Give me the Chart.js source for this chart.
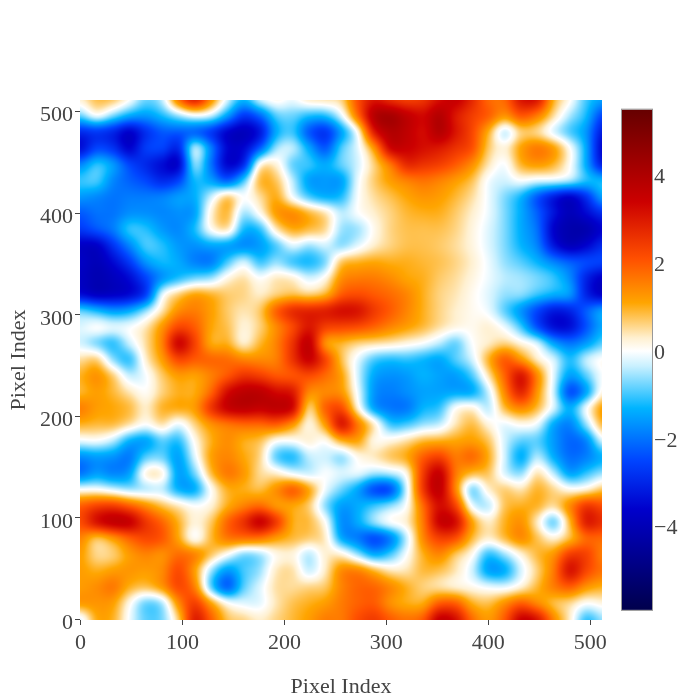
<!DOCTYPE html>
<html>
<head>
<meta charset="utf-8">
<title>Heatmap</title>
<script src="https://cdn.jsdelivr.net/npm/chart.js@4"></script>
<style>
    html, body { margin: 0; padding: 0; background: #ffffff; }
    canvas { display: block; }
</style>
</head>
<body>
<canvas id="heatmapChart" width="700" height="700"></canvas>
<script>
const gridX = [0, 16, 32, 48, 64, 80, 96, 112, 128, 144, 160, 176, 192, 208, 224, 240, 256, 272, 288, 304, 320, 336, 352, 368, 384, 400, 416, 432, 448, 464, 480, 496, 512];
const gridY = [512, 496, 480, 464, 448, 432, 416, 400, 384, 368, 352, 336, 320, 304, 288, 272, 256, 240, 224, 208, 192, 176, 160, 144, 128, 112, 96, 80, 64, 48, 32, 16, 0];

// values, one row per gridY entry, top row first
const zRows = [
    [0.3, 0.9, 0.8, 0.1, -0.8, -0.4, 1.8, 3.2, 1.5, -0.2, -1.3, -0.2, 0.2, -0.1, 0.4, 0.5, 0.6, 2.2, 3.1, 2.6, 2.3, 2.5, 3.2, 3.6, 2.8, 1.8, 1.8, 3.2, 3.2, 1.0, 0.1, -1.0, -1.5],
    [-0.8, 0.05, -0.7, -1.4, -1.6, -1.2, -0.6, -0.1, -0.3, -1.5, -2.8, -2.2, -0.9, -0.8, -1.2, -1.2, -0.2, 1.8, 4.0, 4.3, 3.7, 3.3, 4.0, 3.0, 2.4, 2.0, 1.3, 2.1, 1.6, 0.5, -0.5, -1.2, -2.6],
    [-3.0, -2.8, -3.1, -3.8, -2.9, -2.3, -2.3, -2.3, -2.8, -3.7, -4.0, -3.4, -1.4, -1.0, -2.4, -2.9, -1.6, 0.0, 3.1, 4.0, 3.7, 3.2, 4.0, 3.1, 2.3, 1.0, -0.5, 0.6, 0.5, -0.3, -1.0, -1.6, -3.3],
    [-3.5, -2.5, -2.8, -3.7, -2.6, -2.5, -3.1, -0.2, -1.8, -3.6, -3.6, -2.3, -0.5, -0.3, -1.4, -2.4, -0.9, -0.2, 1.2, 3.5, 3.5, 3.2, 3.0, 2.6, 2.2, 0.7, 0.2, 1.2, 1.7, 1.3, 0.1, -1.4, -3.7],
    [-1.8, -1.0, -1.5, -2.5, -3.0, -3.5, -3.8, -0.5, -2.0, -3.7, -3.1, 0.3, 0.3, -0.9, -1.0, -1.4, -0.8, -0.3, 0.6, 1.6, 2.8, 2.6, 2.4, 2.0, 1.4, 0.4, -0.1, 1.0, 1.3, 1.0, 0.1, -1.4, -3.3],
    [-1.0, -0.9, -1.8, -2.2, -2.5, -3.0, -2.6, -1.2, -1.5, -2.3, -1.0, 1.0, 0.8, -0.4, -1.6, -1.6, -1.6, -0.1, 0.7, 1.2, 1.5, 1.7, 1.5, 1.2, 0.8, -0.1, -0.3, 0.0, -0.2, -0.2, -0.4, -1.1, -1.2],
    [-1.6, -1.8, -2.0, -1.9, -1.9, -1.8, -1.5, -1.4, -0.3, 0.8, 0.0, 0.5, 1.1, -0.1, -1.0, -1.4, -1.2, 0.0, 0.5, 0.8, 1.1, 1.3, 1.2, 0.9, 0.5, -0.1, -0.7, -1.3, -2.4, -3.3, -3.8, -2.9, -1.4],
    [-2.3, -2.0, -2.0, -1.7, -1.7, -1.8, -1.7, -1.6, 0.3, 1.0, -0.6, 0.1, 1.3, 1.5, 1.0, 0.5, -0.4, 0.0, 0.3, 0.6, 0.9, 1.0, 1.0, 0.7, 0.3, -0.1, -0.7, -1.4, -2.2, -3.3, -4.0, -3.5, -2.9],
    [-2.7, -2.3, -1.9, -1.0, -1.1, -1.6, -1.8, -1.2, 0.1, 0.5, -1.3, -1.2, 0.4, 1.1, 0.9, 0.6, -0.6, -0.6, 0.1, 0.6, 0.8, 0.8, 0.8, 0.6, 0.2, -0.2, -0.7, -1.4, -2.0, -3.7, -4.2, -4.2, -3.6],
    [-3.8, -3.8, -2.8, -1.8, -0.9, -1.1, -1.6, -1.7, -1.5, -1.6, -1.8, -1.6, -1.0, -0.2, -0.6, -0.3, -0.7, -0.2, 0.3, 0.6, 0.8, 0.8, 0.7, 0.5, 0.2, -0.2, -0.7, -1.3, -1.8, -3.3, -4.0, -3.6, -2.9],
    [-3.7, -4.0, -3.5, -2.7, -1.6, -1.2, -1.4, -1.9, -2.0, -1.0, -0.2, -1.1, -0.6, -1.1, -1.3, -0.8, 0.8, 1.0, 1.1, 1.0, 1.0, 0.9, 0.8, 0.6, 0.3, -0.1, -0.6, -0.9, -1.3, -1.8, -2.2, -2.4, -2.5],
    [-3.8, -4.1, -3.9, -3.5, -2.6, -1.7, -1.2, -0.8, -0.6, 0.2, 0.5, 0.0, 0.4, 0.3, -0.3, 0.1, 1.4, 1.6, 1.6, 1.4, 1.1, 1.0, 0.7, 0.5, 0.2, -0.1, -0.4, -0.5, -0.7, -1.0, -1.7, -3.1, -3.8],
    [-3.5, -3.9, -3.8, -3.6, -2.8, -0.1, 0.7, 1.2, 1.0, 0.7, 0.6, 0.3, 0.6, 0.8, 0.6, 0.9, 2.0, 2.2, 2.0, 1.8, 1.5, 1.0, 0.6, 0.4, 0.1, -0.2, -0.6, -0.6, -1.0, -1.3, -1.5, -3.1, -3.8],
    [-0.8, -1.2, -1.6, -1.4, -0.6, 0.4, 1.4, 1.6, 1.2, 0.7, 0.4, 0.7, 2.0, 2.8, 2.9, 3.0, 3.3, 3.2, 2.5, 2.0, 1.5, 1.0, 0.6, 0.3, 0.1, -0.1, -0.9, -1.7, -2.6, -3.3, -3.1, -2.2, -1.4],
    [-0.2, 0.1, -0.1, 0.0, 0.4, 1.3, 2.3, 2.0, 1.1, 0.8, 0.2, 0.6, 1.4, 2.2, 3.1, 2.4, 2.3, 2.2, 1.9, 1.5, 1.2, 0.9, 0.5, 0.2, 0.1, 0.3, -0.1, -1.0, -2.5, -3.5, -3.5, -2.4, -1.4],
    [-0.3, -0.8, -1.2, -0.3, 0.5, 1.5, 3.6, 2.4, 1.0, 1.0, 0.2, 0.9, 1.5, 2.6, 3.8, 1.2, 0.9, 0.6, 0.5, 0.4, 0.2, 0.0, -0.4, -0.9, 0.0, 0.3, 0.6, 0.2, -0.2, -1.5, -2.0, -1.6, -0.9],
    [0.5, 0.7, -0.7, -1.2, 0.3, 1.2, 2.3, 2.0, 1.9, 1.8, 1.5, 1.4, 1.5, 2.6, 3.6, 2.4, 0.8, -0.2, -1.0, -1.2, -1.1, -1.3, -1.5, -0.9, -0.3, 1.0, 2.1, 1.3, 0.3, -0.2, -1.2, -0.3, 0.1],
    [1.0, 1.4, 0.7, -0.4, -0.1, 0.7, 1.2, 1.1, 1.5, 2.0, 2.6, 2.4, 2.0, 2.0, 2.2, 1.8, 1.2, -0.3, -1.5, -1.7, -1.6, -1.3, -1.5, -1.6, -1.0, 0.4, 1.9, 3.3, 1.5, -0.2, -1.6, -0.9, 0.0],
    [0.9, 1.2, 0.9, 0.4, 0.0, 0.6, 1.0, 1.0, 1.8, 3.3, 3.8, 3.8, 3.3, 3.1, 1.4, 1.4, 1.3, -0.1, -1.7, -1.9, -1.7, -1.5, -1.5, -1.5, -1.5, -0.4, 1.5, 3.0, 1.3, -0.3, -2.6, -1.6, 0.2],
    [1.6, 1.2, 1.1, 0.9, 0.3, 1.0, 1.1, 1.2, 2.6, 3.6, 3.8, 3.6, 3.8, 3.5, 0.5, 2.0, 2.3, 0.2, -1.6, -2.0, -2.0, -1.3, -1.1, 0.1, 0.3, -0.5, 0.9, 1.5, 0.9, -0.2, -1.4, 0.0, 1.3],
    [1.0, 0.9, 0.9, 0.5, 0.0, 0.5, -0.2, 0.6, 1.3, 1.6, 1.8, 1.8, 2.0, 1.3, 0.1, 1.2, 3.3, 1.7, 0.4, -1.1, -1.0, -0.6, -0.4, 0.4, 0.9, 0.2, -0.2, 0.1, -0.1, -1.5, -1.9, -0.6, 1.0],
    [-0.1, 0.0, -0.4, -1.4, -1.6, -0.9, -1.2, 0.1, 1.0, 1.4, 1.0, 0.8, 0.0, 0.0, 0.3, 0.0, 1.0, 1.2, 0.1, 0.2, 0.5, 0.9, 1.0, 1.1, 1.2, 0.8, -0.3, -0.9, -0.9, -1.6, -2.2, -1.9, -0.2],
    [-1.8, -1.6, -1.7, -2.0, -0.9, -0.8, -1.6, -0.2, 1.2, 1.5, 1.1, 0.6, -1.0, -1.3, -0.4, -0.3, -0.7, 0.1, 0.4, 0.8, 1.1, 2.0, 2.4, 1.6, 1.9, 1.1, -0.3, -1.5, -0.4, -1.4, -2.1, -1.9, -1.4],
    [-2.1, -1.6, -1.9, -1.6, 0.3, 0.3, -1.6, -0.8, 0.9, 1.7, 1.3, 0.5, 0.3, -0.2, -0.4, 0.0, -0.2, -0.1, -0.5, -0.4, 0.1, 2.5, 3.7, 1.6, 0.9, 0.8, -0.3, -0.7, 0.5, -0.4, -1.6, -1.1, -0.6],
    [0.0, 0.0, -0.3, -0.6, -0.5, -0.4, -1.4, -1.5, 0.0, 1.0, 1.0, 0.8, 1.4, 2.1, 1.2, -0.1, -0.8, -1.5, -2.6, -2.6, -0.3, 2.6, 3.8, 1.4, -0.9, 0.3, 0.7, 0.4, 1.0, 0.6, 0.1, 0.2, 0.8],
    [2.0, 2.4, 2.5, 2.0, 1.4, 0.8, 0.4, 0.0, 0.2, 1.0, 1.5, 1.8, 1.2, 1.1, 0.7, -0.7, -1.6, -1.4, -1.0, -0.6, 0.0, 1.8, 3.3, 2.4, -0.2, -0.5, 0.8, 1.0, 1.0, 0.5, 1.5, 2.6, 2.2],
    [2.2, 3.3, 3.8, 3.7, 2.6, 1.9, 1.0, 0.2, 0.7, 1.9, 2.7, 3.7, 2.6, 1.0, 0.9, 0.1, -1.8, -1.4, -0.5, 0.1, 0.3, 1.6, 3.6, 3.4, 1.2, 0.3, 1.0, 1.4, 0.3, -1.0, 0.9, 3.1, 2.7],
    [1.5, 0.7, 1.2, 1.9, 2.3, 2.1, 1.1, -0.1, 0.9, 1.7, 1.8, 1.7, 1.2, 0.9, 0.7, 0.4, -1.5, -2.0, -2.6, -2.0, -0.4, 1.5, 2.4, 2.2, 0.9, 0.3, 0.9, 1.5, 0.8, 0.2, 0.8, 1.8, 1.8],
    [1.2, 0.5, 0.6, 1.2, 1.5, 1.3, 1.8, 1.6, 0.8, 0.0, -0.8, -0.6, 0.1, 0.2, -0.5, 0.3, 0.3, -0.6, -1.5, -1.0, 0.0, 1.0, 1.5, 0.7, 0.1, -1.2, -0.6, 0.2, 0.9, 1.3, 2.5, 2.4, 1.5],
    [1.2, 1.0, 1.2, 1.3, 1.2, 1.4, 2.3, 1.2, -0.6, -1.7, -1.0, -0.6, 0.4, 0.5, -0.4, 0.3, 1.5, 1.6, 1.0, 0.4, 0.4, 0.9, 0.8, 0.4, -0.3, -1.6, -1.5, -0.3, 0.6, 1.6, 3.3, 2.3, 1.7],
    [1.2, 1.4, 1.7, 1.0, 0.8, 1.3, 2.3, 1.6, -1.0, -2.4, -0.9, -0.2, 0.5, 0.5, 0.6, 0.7, 1.5, 1.9, 1.9, 1.5, 1.0, 0.6, 0.4, 0.2, 0.1, -0.1, -0.2, 0.2, 0.9, 1.6, 2.0, 1.3, 1.0],
    [1.3, 1.3, 1.2, 0.1, -0.9, -0.6, 1.4, 2.5, 1.2, 0.1, -0.2, -0.2, 0.4, 0.8, 1.0, 1.2, 1.6, 1.9, 2.0, 1.3, 1.0, 1.0, 2.0, 2.0, 1.0, 0.8, 1.4, 2.0, 1.4, 0.8, 0.5, 0.0, 0.2],
    [-0.3, 1.1, 1.0, -0.1, -0.9, -0.8, 0.6, 3.1, 2.0, 0.8, 0.6, 0.3, 0.6, 0.9, 1.2, 1.6, 1.6, 2.2, 2.5, 2.0, 1.7, 2.0, 3.7, 3.3, 1.8, 1.2, 2.0, 3.6, 3.2, 1.5, 0.3, -1.2, -0.6]
];

const axisTicks = [0, 100, 200, 300, 400, 500];
const colorbarTicks = [-4, -2, 0, 2, 4];
const colorStopValues = [-5.9, -3.6, -2.5, -1.3, -0.35, 0, 0.3, 1.1, 2.1, 3.4, 5.5];
const colorStopColors = ['#00004c', '#0000cc', '#0044ff', '#00b4ff', '#c8f0ff', '#ffffff', '#fff0d0', '#ffa500', '#ff5000', '#cc0000', '#660000'];

const textColor = '#444444';
const tickFont = { family: '"Liberation Serif", serif', size: 22 };

const stopRgb = colorStopColors.map((hex) => [
    parseInt(hex.slice(1, 3), 16),
    parseInt(hex.slice(3, 5), 16),
    parseInt(hex.slice(5, 7), 16),
]);

const colorFor = (value) => {
    const last = colorStopValues.length - 1;
    if (value <= colorStopValues[0]) return stopRgb[0];
    if (value >= colorStopValues[last]) return stopRgb[last];
    let i = 0;
    while (value > colorStopValues[i + 1]) i++;
    const t = (value - colorStopValues[i]) / (colorStopValues[i + 1] - colorStopValues[i]);
    return stopRgb[i].map((c, k) => c + (stopRgb[i + 1][k] - c) * t);
};

// same job as plotly's zsmooth: only the painting is smoothed, the data stays zRows
const kernel = (d) => {
    const x = Math.abs(d);
    if (x < 1) return (7 * x * x * x - 12 * x * x + 16 / 3) / 6;
    if (x < 2) return (-7 / 3 * x * x * x + 12 * x * x - 20 * x + 32 / 3) / 6;
    return 0;
};

const sampleGrid = (col, row) => {
    const last = gridX.length - 1;
    const c0 = Math.floor(col);
    const r0 = Math.floor(row);
    let total = 0;
    for (let r = r0 - 1; r <= r0 + 2; r++) {
        const source = zRows[Math.max(0, Math.min(last, r))];
        const rowWeight = kernel(row - r);
        for (let c = c0 - 1; c <= c0 + 2; c++) {
            total += source[Math.max(0, Math.min(last, c))] * rowWeight * kernel(col - c);
        }
    }
    return total;
};

const heatmapPlugin = {
    id: 'heatmap',
    beforeDatasetsDraw(chart) {
        const { ctx, chartArea, scales } = chart;
        const width = Math.round(chartArea.right - chartArea.left);
        const height = Math.round(chartArea.bottom - chartArea.top);
        const image = ctx.createImageData(width, height);
        const xStep = gridX[1] - gridX[0];
        const yStep = gridY[0] - gridY[1];
        let offset = 0;
        for (let py = 0; py < height; py++) {
            const yValue = scales.y.getValueForPixel(chartArea.top + py + 0.5);
            const row = (gridY[0] - yValue) / yStep;
            for (let px = 0; px < width; px++) {
                const xValue = scales.x.getValueForPixel(chartArea.left + px + 0.5);
                const rgb = colorFor(sampleGrid((xValue - gridX[0]) / xStep, row));
                image.data[offset++] = rgb[0];
                image.data[offset++] = rgb[1];
                image.data[offset++] = rgb[2];
                image.data[offset++] = 255;
            }
        }
        ctx.putImageData(image, chartArea.left, chartArea.top);
    },
};

const colorbarPlugin = {
    id: 'colorbar',
    afterDatasetsDraw(chart) {
        const { ctx, chartArea, scales } = chart;
        const left = chartArea.right + 20;
        const barWidth = 30;
        const top = scales.cb.getPixelForValue(colorStopValues[colorStopValues.length - 1]);
        const bottom = scales.cb.getPixelForValue(colorStopValues[0]);
        const gradient = ctx.createLinearGradient(0, bottom, 0, top);
        colorStopValues.forEach((value, i) => {
            gradient.addColorStop((value - colorStopValues[0]) / (colorStopValues[colorStopValues.length - 1] - colorStopValues[0]), colorStopColors[i]);
        });
        ctx.save();
        ctx.fillStyle = gradient;
        ctx.fillRect(left, top, barWidth, bottom - top);
        ctx.strokeStyle = '#999999';
        ctx.lineWidth = 1;
        ctx.strokeRect(left - 0.5, top - 0.5, barWidth + 1, bottom - top + 1);
        ctx.restore();
    },
};

const gridPoints = [];
zRows.forEach((row, r) => {
    row.forEach((value, c) => gridPoints.push({ x: gridX[c], y: gridY[r], v: value }));
});

const axisOptions = (titleText, titlePadding, labelPadding, labelOffset, fixFit) => ({
    type: 'linear',
    min: -0.5,
    max: 511.5,
    afterBuildTicks: (scale) => {
        scale.ticks = axisTicks.map((value) => ({ value }));
    },
    afterFit: fixFit,
    border: { display: false },
    grid: { drawOnChartArea: false, tickLength: 5, tickColor: textColor, tickWidth: 1 },
    ticks: { color: textColor, font: tickFont, padding: labelPadding, labelOffset, maxRotation: 0, autoSkip: false, includeBounds: false },
    title: { display: true, text: titleText, color: textColor, font: tickFont, padding: titlePadding },
});

new Chart(document.getElementById('heatmapChart').getContext('2d'), {
    type: 'scatter',
    data: {
        datasets: [
            {
                label: 'z',
                data: gridPoints,
                pointRadius: 0,
                showLine: false,
            },
        ],
    },
    options: {
        responsive: false,
        animation: false,
        layout: { padding: { top: 100 } },
        plugins: {
            legend: { display: false },
            tooltip: { enabled: false },
        },
        scales: {
            x: axisOptions('Pixel Index', { top: 0, bottom: 0 }, 5, 0, (scale) => {
                scale.height = 80;
            }),
            y: axisOptions('Pixel Index', { top: 6, bottom: 0 }, 2, 4, (scale) => {
                scale.width = 80;
            }),
            cb: {
                type: 'linear',
                position: 'right',
                min: -6.13,
                max: 5.72,
                afterBuildTicks: (scale) => {
                    scale.ticks = colorbarTicks.map((value) => ({ value }));
                },
                afterFit: (scale) => {
                    scale.width = 98;
                },
                border: { display: false },
                grid: { display: false, drawTicks: false },
                ticks: {
                    color: textColor,
                    font: tickFont,
                    padding: 52,
                    labelOffset: 2,
                    autoSkip: false,
                    callback: (value) => (value < 0 ? '\u2212' + Math.abs(value) : String(value)),
                },
            },
        },
    },
    plugins: [heatmapPlugin, colorbarPlugin],
});
</script>
</body>
</html>
